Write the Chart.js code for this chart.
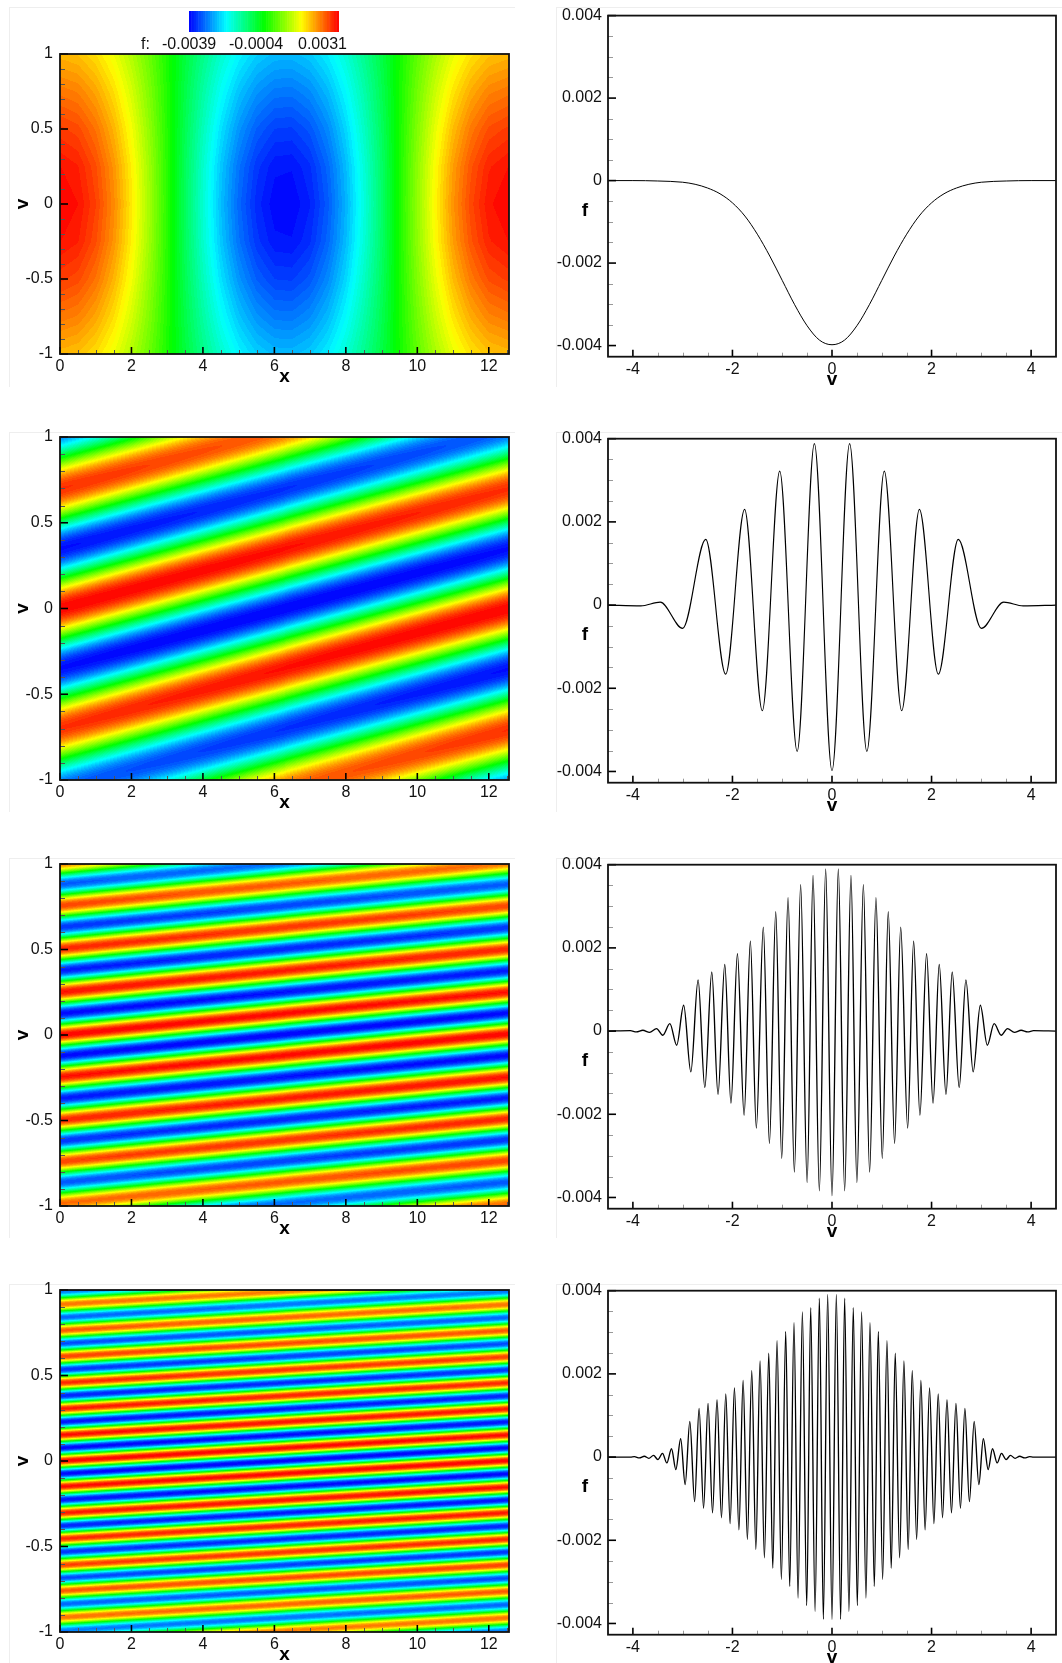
<!DOCTYPE html>
<html>
<head>
<meta charset="utf-8">
<title>f(x,v) contours and v slices</title>
<script src="https://cdn.jsdelivr.net/npm/chart.js@4"></script>
<style>
  html, body { margin: 0; padding: 0; background: #fff; }
  #page { position: relative; width: 1062px; height: 1663px; overflow: hidden; }
  canvas { position: absolute; filter: blur(0.35px); }
  .sheet { position: absolute; border-top: 1px solid #eee; border-left: 1px solid #eee; }
</style>
</head>
<body>
<div id="page"></div>
<script>
// --- 1. DATA ---

// tick labels and minor ticks
const contourXTicks = [0, 2, 4, 6, 8, 10, 12];
const contourXMinor = [0.5, 1, 1.5, 2.5, 3, 3.5, 4.5, 5, 5.5, 6.5, 7, 7.5, 8.5, 9, 9.5, 10.5, 11, 11.5, 12.5];
const contourVTicks = [-1, -0.5, 0, 0.5, 1];
const contourVMinor = [-0.9, -0.8, -0.7, -0.6, -0.4, -0.3, -0.2, -0.1, 0.1, 0.2, 0.3, 0.4, 0.6, 0.7, 0.8, 0.9];
const sliceVTicks = [-4, -2, 0, 2, 4];
const sliceVMinor = [-3.5, -3, -2.5, -1.5, -1, -0.5, 0.5, 1, 1.5, 2.5, 3, 3.5];
const sliceFTicks = [-0.004, -0.002, 0, 0.002, 0.004];
const sliceFMinor = [-0.0035, -0.003, -0.0025, -0.0015, -0.001, -0.0005, 0.0005, 0.001, 0.0015, 0.0025, 0.003, 0.0035];

// colour legend
const legendLabels = ['f:', '-0.0039', '-0.0004', '0.0031'];
const legendColors = ['#0000ff', '#00ffff', '#00ff00', '#ffff00', '#ff0000'];
const contourRange = [-0.0039, 0.0039];
const contourLevels = 64;

// right column: extrema of f along v (v >= 0 side, the curves are even in v)
const slice1V = [0, 0.25, 0.5, 0.75, 1, 1.25, 1.5, 1.75, 2, 2.25, 2.5, 2.75, 3, 3.5, 4, 4.5];
const slice1F = [-0.00398, -0.00387, -0.00352, -0.00301, -0.00242, -0.00183, -0.0013, -0.00086, -0.00054, -0.00032, -0.00018, -0.00009, -0.00004, -0.00001, 0, 0];

const slice2V = [0, 0.354, 0.7, 1.05, 1.4, 1.756, 2.136, 2.537, 3, 3.45, 3.84, 4.5];
const slice2F = [-0.00398, 0.00388, -0.00352, 0.00322, -0.00254, 0.0023, -0.00166, 0.00158, -0.00056, 0.00007, -0.00002, 0];

const slice3V = [0, 0.127, 0.254, 0.381, 0.5, 0.63, 0.756, 0.883, 1.01, 1.13, 1.257, 1.38, 1.52, 1.64, 1.766, 1.9, 2.03, 2.154, 2.29, 2.415, 2.555, 2.69, 2.836, 2.98, 3.12, 3.257, 3.4, 3.525, 3.665, 3.8, 3.93, 4.05, 4.5];
const slice3F = [-0.00396, 0.0039, -0.00384, 0.00374, -0.00364, 0.00352, -0.00339, 0.00321, -0.00306, 0.00287, -0.0027, 0.0025, -0.00233, 0.00216, -0.00202, 0.00186, -0.00173, 0.0016, -0.00152, 0.00142, -0.00136, 0.00123, -0.00098, 0.00062, -0.00034, 0.00018, -0.0001, 0.00006, -0.00003, 0.00002, -0.00002, 0.00001, 0];

const slice4V = [0, 0.087, 0.174, 0.254, 0.34, 0.428, 0.508, 0.595, 0.682, 0.763, 0.85, 0.93, 1.017, 1.104, 1.19, 1.27, 1.358, 1.445, 1.53, 1.612, 1.7, 1.786, 1.87, 1.96, 2.047, 2.134, 2.22, 2.31, 2.4, 2.49, 2.58, 2.67, 2.76, 2.856, 2.95, 3.04, 3.137, 3.224, 3.318, 3.405, 3.498, 3.585, 3.68, 3.77, 3.87, 3.97, 4.05, 4.5];
const slice4F = [-0.0039, 0.00391, -0.0039, 0.00382, -0.00371, 0.00359, -0.00357, 0.00349, -0.00339, 0.00323, -0.00311, 0.00302, -0.00294, 0.0028, -0.00267, 0.0025, -0.00242, 0.00231, -0.00222, 0.00208, -0.00198, 0.00184, -0.00175, 0.00166, -0.0016, 0.00152, -0.00146, 0.00138, -0.00134, 0.00129, -0.00123, 0.00117, -0.00107, 0.00086, -0.00066, 0.00044, -0.0003, 0.0002, -0.00014, 0.00009, -0.00006, 0.00004, -0.00003, 0.00002, -0.00002, 0.00001, 0, 0];

// left column, top panel: f along v = 0, and how it fades toward v = +-1
const field1X = [0, 0.5, 1, 1.5, 2, 2.5, 3, 3.5, 4, 4.5, 5, 5.5, 6, 6.5, 7, 7.5, 8, 8.5, 9, 9.5, 10, 10.5, 11, 11.5, 12, 12.566];
const field1F = [0.0039, 0.00378, 0.00342, 0.00285, 0.00211, 0.00124, 0.00028, -0.00071, -0.00162, -0.00245, -0.00312, -0.0036, -0.00386, -0.00388, -0.00367, -0.00322, -0.00255, -0.00173, -0.00083, 0.00016, 0.0011, 0.00199, 0.00277, 0.00336, 0.00375, 0.0039];

const fadeV = [0, 0.25, 0.5, 0.75, 1];
const fade1 = [1, 0.97, 0.885, 0.77, 0.64];
const fade2 = [1, 0.99, 0.95, 0.9, 0.83];
const fade3 = [1, 0.97, 0.93, 0.87, 0.78];
const fade4 = [1, 0.96, 0.91, 0.83, 0.75];

// left column, stripes: red crests at x = 0 and how far a crest climbs in v over the x range
const crests2 = [-2.12, -1.41, -0.7, 0, 0.7, 1.41];
const crests3 = [-1.49, -1.24, -0.985, -0.741, -0.498, -0.245, 0, 0.251, 0.504, 0.757, 1.008];
const crests4 = [-1.22, -1.07, -0.915, -0.76, -0.61, -0.455, -0.305, -0.15, 0, 0.152, 0.305, 0.457, 0.611, 0.763, 0.916, 1.068];
const rise2 = 0.7;
const rise3 = 0.252;
const rise4 = 0.153;

const xMax = 12.566;

// --- 2. PAGE LAYOUT (canvas and plot boxes in page pixels) ---
const rows = [
  { top: 0, height: 400, sheet: 7, left: [54, 354], right: [13.3, 356.7], line: 1 },
  { top: 420, height: 420, sheet: 432, left: [437, 780], right: [438.7, 782.7], line: 1.15 },
  { top: 846, height: 420, sheet: 858, left: [864, 1206], right: [864.7, 1208.7], line: 1.35 },
  { top: 1272, height: 391, sheet: 1284, left: [1290, 1632], right: [1290.7, 1634.7], line: 1.35 }
];
const leftBox = { canvasX: 0, canvasW: 530, l: 60, r: 509 };
const rightBox = { canvasX: 530, canvasW: 532, l: 608, r: 1056 };

// --- 3. HELPERS ---
function lerpAt(xs, ys, x) {
  if (x <= xs[0]) return ys[0];
  for (let i = 1; i < xs.length; i++) {
    if (x <= xs[i]) {
      const t = (x - xs[i - 1]) / (xs[i] - xs[i - 1]);
      return ys[i - 1] + (ys[i] - ys[i - 1]) * t;
    }
  }
  return ys[ys.length - 1];
}

function hexToRgb(hex) {
  return [1, 3, 5].map(i => parseInt(hex.substr(i, 2), 16));
}

// colour per contour level, same five stop rainbow as the legend
const levelColors = [];
for (let i = 0; i < contourLevels; i++) {
  const p = (i + 0.5) / contourLevels * (legendColors.length - 1);
  const k = Math.min(Math.floor(p), legendColors.length - 2);
  const a = hexToRgb(legendColors[k]), b = hexToRgb(legendColors[k + 1]);
  const c = a.map((ch, j) => Math.round(ch + (b[j] - ch) * (p - k)));
  levelColors.push(`rgb(${c[0]},${c[1]},${c[2]})`);
}

function levelOf(f) {
  const n = (f - contourRange[0]) / (contourRange[1] - contourRange[0]);
  return Math.max(0, Math.min(contourLevels - 1, Math.floor(n * contourLevels)));
}

function field1(x, v) {
  return lerpAt(field1X, field1F, x) * lerpAt(fadeV, fade1, Math.abs(v));
}

// the crest list gives the stripe phase, the fade list its strength
function stripeField(crests, rise, fade) {
  return (x, v) => {
    const v0 = v - rise * x / xMax;
    let i = 0;
    while (i < crests.length - 2 && v0 >= crests[i + 1]) i++;
    const t = (v0 - crests[i]) / (crests[i + 1] - crests[i]);
    return contourRange[1] * lerpAt(fadeV, fade, Math.abs(v)) * Math.cos(2 * Math.PI * t);
  };
}

function evenCurve(vs, fs) {
  const pts = [];
  for (let i = vs.length - 1; i > 0; i--) pts.push({ x: -vs[i], y: fs[i] });
  vs.forEach((v, i) => pts.push({ x: v, y: fs[i] }));
  return pts;
}

// --- 4. PLUGINS ---
// contour cells, one strip per pixel row, through the chart scales
const contourPlugin = {
  id: 'contourCells',
  beforeDatasetsDraw(chart, args, opts) {
    if (!opts.value) return;
    const sx = chart.scales.x, sy = chart.scales.y, ctx = chart.ctx;
    const nx = 450, ny = Math.round(chart.chartArea.height);
    ctx.save();
    for (let j = 0; j < ny; j++) {
      const v0 = sy.min + (sy.max - sy.min) * j / ny;
      const v1 = sy.min + (sy.max - sy.min) * (j + 1) / ny;
      const yTop = Math.round(sy.getPixelForValue(v1));
      const yBot = Math.round(sy.getPixelForValue(v0));
      let start = 0, cur = levelOf(opts.value(xMax * 0.5 / nx, (v0 + v1) / 2));
      for (let i = 1; i <= nx; i++) {
        const lev = i < nx ? levelOf(opts.value(xMax * (i + 0.5) / nx, (v0 + v1) / 2)) : -1;
        if (lev !== cur) {
          const xa = Math.round(sx.getPixelForValue(xMax * start / nx));
          const xb = Math.round(sx.getPixelForValue(xMax * i / nx));
          ctx.fillStyle = levelColors[cur];
          ctx.fillRect(xa, yTop, xb - xa, yBot - yTop);
          start = i;
          cur = lev;
        }
      }
    }
    ctx.restore();
  }
};

// inward ticks, frame and bold axis letters
const framePlugin = {
  id: 'plotFrame',
  afterDatasetsDraw(chart, args, opts) {
    const { ctx, chartArea: a, scales: { x: sx, y: sy } } = chart;
    ctx.save();
    const line = (x0, y0, x1, y1) => {
      ctx.beginPath();
      ctx.moveTo(x0, y0);
      ctx.lineTo(x1, y1);
      ctx.stroke();
    };
    ctx.strokeStyle = opts.minorColor;
    ctx.lineWidth = 1;
    opts.xMinor.forEach(t => {
      const p = Math.round(sx.getPixelForValue(t)) + 0.5;
      line(p, a.bottom, p, a.bottom - 4);
    });
    opts.yMinor.forEach(t => {
      const p = Math.round(sy.getPixelForValue(t)) + 0.5;
      line(a.left, p, a.left + 5, p);
    });
    ctx.strokeStyle = '#000';
    ctx.lineWidth = 1.6;
    opts.xTicks.forEach(t => {
      const p = sx.getPixelForValue(t);
      line(p, a.bottom, p, a.bottom - 7);
    });
    opts.yTicks.forEach(t => {
      const p = sy.getPixelForValue(t);
      line(a.left, p, a.left + 8, p);
    });
    ctx.strokeStyle = '#111';
    ctx.lineWidth = 1.8;
    ctx.strokeRect(a.left, a.top, a.right - a.left, a.bottom - a.top);

    ctx.fillStyle = '#000';
    ctx.font = 'bold 19px "Liberation Sans"';
    ctx.textAlign = 'center';
    ctx.textBaseline = 'middle';
    ctx.fillText(opts.xName, (a.left + a.right) / 2, a.bottom + 23);
    if (opts.rotateY) {
      ctx.translate(a.left - 37, sy.getPixelForValue(0));
      ctx.rotate(-Math.PI / 2);
      ctx.fillText(opts.yName, 0, 0);
    } else {
      ctx.fillText(opts.yName, a.left - 23, sy.getPixelForValue(0) + 30);
    }
    ctx.restore();
  }
};

// colour bar above the first contour panel
const legendPlugin = {
  id: 'colorLegend',
  afterDraw(chart) {
    const ctx = chart.ctx;
    ctx.save();
    const barL = 189, barW = 149.5, barT = 11, barH = 21;
    for (let i = 0; i < contourLevels; i++) {
      ctx.fillStyle = levelColors[i];
      const xa = barL + barW * i / contourLevels;
      ctx.fillRect(xa, barT, barW / contourLevels + 0.5, barH);
    }
    ctx.fillStyle = '#111';
    ctx.font = '16px "Liberation Sans"';
    ctx.textAlign = 'left';
    ctx.textBaseline = 'middle';
    [141, 162, 229, 298].forEach((px, i) => ctx.fillText(legendLabels[i], px, 44.5));
    ctx.restore();
  }
};

// --- 5. CHART BUILDER ---
function makeChart(box, span, row, cfg) {
  const canvas = document.createElement('canvas');
  const w = box.canvasW, h = row.height;
  canvas.width = w;
  canvas.height = h;
  canvas.style.left = box.canvasX + 'px';
  canvas.style.top = row.top + 'px';
  canvas.style.width = w + 'px';
  canvas.style.height = h + 'px';
  document.getElementById('page').appendChild(canvas);

  const tickFont = { family: '"Liberation Sans"', size: 16 };
  const plotTop = span[0] - row.top, plotBottom = span[1] - row.top;
  const plotLeft = box.l - box.canvasX, plotRight = box.r - box.canvasX;

  const axis = (min, max, ticks, padding, fit) => ({
    type: 'linear',
    min: min,
    max: max,
    grid: { display: false, drawTicks: false },
    border: { display: false },
    afterBuildTicks: s => { s.ticks = ticks.map(value => ({ value })); },
    afterFit: fit,
    ticks: {
      autoSkip: false,
      maxRotation: 0,
      padding: padding,
      color: '#111',
      font: tickFont,
      callback: value => String(value)
    }
  });

  return new Chart(canvas, {
    type: 'line',
    data: { datasets: cfg.points ? [{
      data: cfg.points,
      borderColor: '#000',
      borderWidth: row.line,
      pointRadius: 0,
      cubicInterpolationMode: 'monotone'
    }] : [] },
    options: {
      responsive: false,
      animation: false,
      events: [],
      layout: { padding: { top: plotTop, right: w - plotRight, left: 0, bottom: 0 } },
      scales: {
        x: axis(cfg.xRange[0], cfg.xRange[1], cfg.xTicks, 3, s => { s.height = h - plotBottom; }),
        y: axis(cfg.yRange[0], cfg.yRange[1], cfg.yTicks, cfg.yPad, s => { s.width = plotLeft; })
      },
      plugins: {
        legend: { display: false },
        title: { display: false },
        tooltip: { enabled: false },
        contourCells: { value: cfg.value },
        plotFrame: {
          xTicks: cfg.xTicks, yTicks: cfg.yTicks, xMinor: cfg.xMinor, yMinor: cfg.yMinor,
          xName: cfg.xName, yName: cfg.yName, rotateY: cfg.rotateY, minorColor: cfg.minorColor
        }
      }
    },
    plugins: [contourPlugin, framePlugin].concat(cfg.legend ? [legendPlugin] : [])
  });
}

// --- 6. BUILD THE EIGHT PANELS ---
const contourFields = [
  field1,
  stripeField(crests2, rise2, fade2),
  stripeField(crests3, rise3, fade3),
  stripeField(crests4, rise4, fade4)
];
const sliceCurves = [
  evenCurve(slice1V, slice1F),
  evenCurve(slice2V, slice2F),
  evenCurve(slice3V, slice3F),
  evenCurve(slice4V, slice4F)
];

rows.forEach((row, i) => {
  [[9, row.sheet, 505], [556, row.sheet, 506]].forEach(s => {
    const d = document.createElement('div');
    d.className = 'sheet';
    d.style.left = s[0] + 'px';
    d.style.top = s[1] + 'px';
    d.style.width = s[2] + 'px';
    d.style.height = '379px';
    document.getElementById('page').appendChild(d);
  });

  makeChart(leftBox, row.left, row, {
    value: contourFields[i],
    xRange: [0, xMax], yRange: [-1, 1],
    xTicks: contourXTicks, yTicks: contourVTicks,
    xMinor: contourXMinor, yMinor: contourVMinor,
    xName: 'x', yName: 'v', rotateY: true, yPad: 7,
    minorColor: '#555',
    legend: i === 0
  });

  makeChart(rightBox, row.right, row, {
    points: sliceCurves[i],
    xRange: [-4.5, 4.5], yRange: [-0.00427, 0.004],
    xTicks: sliceVTicks, yTicks: sliceFTicks,
    xMinor: sliceVMinor, yMinor: sliceFMinor,
    xName: 'v', yName: 'f', rotateY: false, yPad: 6,
    minorColor: '#999'
  });
});
</script>
</body>
</html>
